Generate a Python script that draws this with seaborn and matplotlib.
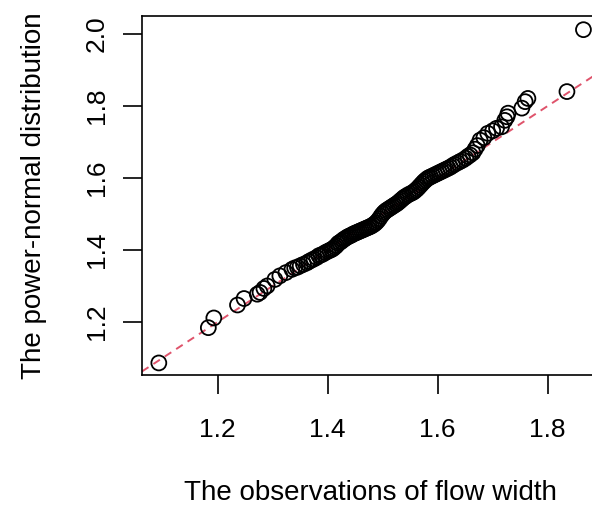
import matplotlib
matplotlib.use("Agg")
import matplotlib.pyplot as plt
import seaborn as sns
import pandas as pd

# Q-Q pairs (sorted observations vs fitted quantiles)
obs = [1.093, 1.183, 1.193, 1.236, 1.248, 1.272, 1.277, 1.284, 1.290, 1.304,
       1.313, 1.324, 1.335, 1.340, 1.345, 1.350, 1.356, 1.362, 1.366, 1.371,
       1.375, 1.380, 1.384, 1.388, 1.392, 1.396, 1.400, 1.404, 1.407, 1.410,
       1.413, 1.416, 1.419, 1.422, 1.425, 1.428, 1.431, 1.434, 1.437, 1.440,
       1.443, 1.446, 1.449, 1.452, 1.455, 1.458, 1.461, 1.464, 1.467, 1.470,
       1.473, 1.476, 1.479, 1.482, 1.485, 1.488, 1.491, 1.494, 1.497, 1.500,
       1.503, 1.506, 1.509, 1.512, 1.515, 1.518, 1.521, 1.524, 1.527, 1.530,
       1.533, 1.536, 1.539, 1.542, 1.546, 1.550, 1.554, 1.557, 1.560, 1.563,
       1.566, 1.569, 1.572, 1.575, 1.578, 1.581, 1.584, 1.587, 1.591, 1.595,
       1.599, 1.603, 1.607, 1.611, 1.615, 1.619, 1.623, 1.627, 1.631, 1.636,
       1.641, 1.646, 1.651, 1.655, 1.659, 1.664, 1.668, 1.672, 1.677, 1.684,
       1.691, 1.700, 1.707, 1.716, 1.722, 1.726, 1.728, 1.753, 1.759, 1.764,
       1.835, 1.865]
fitted = [1.086, 1.184, 1.211, 1.247, 1.265, 1.277, 1.282, 1.293, 1.300, 1.318,
          1.328, 1.337, 1.346, 1.350, 1.352, 1.356, 1.360, 1.364, 1.368, 1.372,
          1.375, 1.379, 1.384, 1.386, 1.389, 1.393, 1.396, 1.399, 1.401, 1.404,
          1.408, 1.412, 1.418, 1.421, 1.424, 1.428, 1.431, 1.434, 1.437, 1.439,
          1.441, 1.444, 1.446, 1.448, 1.450, 1.452, 1.454, 1.456, 1.458, 1.460,
          1.462, 1.464, 1.466, 1.469, 1.472, 1.476, 1.481, 1.487, 1.494, 1.500,
          1.505, 1.509, 1.512, 1.515, 1.518, 1.521, 1.524, 1.527, 1.530, 1.534,
          1.538, 1.542, 1.546, 1.549, 1.553, 1.556, 1.559, 1.562, 1.566, 1.570,
          1.575, 1.580, 1.585, 1.590, 1.594, 1.598, 1.601, 1.603, 1.606, 1.609,
          1.612, 1.615, 1.618, 1.621, 1.624, 1.627, 1.630, 1.634, 1.638, 1.642,
          1.646, 1.650, 1.655, 1.660, 1.664, 1.670, 1.680, 1.690, 1.705, 1.712,
          1.724, 1.731, 1.738, 1.742, 1.760, 1.770, 1.780, 1.794, 1.812, 1.821,
          1.840, 2.012]

x_ticks = [1.2, 1.4, 1.6, 1.8]
y_ticks = [1.2, 1.4, 1.6, 1.8, 2.0]

df = pd.DataFrame({"obs": obs, "fitted": fitted})

sns.set_style("ticks")
plt.rcParams["font.family"] = ["Liberation Sans", "DejaVu Sans"]

fig = plt.figure(figsize=(5.92, 5.07), dpi=100)
# axes run slightly past the right edge, as in the cropped reference
ax = fig.add_axes([142 / 592, 132 / 507, 457.4 / 592, 359 / 507])

sns.scatterplot(data=df, x="obs", y="fitted", ax=ax, marker="o", s=115,
                facecolor="none", edgecolor="black", linewidth=1.3, zorder=3)
ax.axline((0, 0), slope=1, color="#DF536B", linestyle=(0, (4, 3)),
          linewidth=1.4, zorder=2)

ax.set_xlim(1.0624, 1.894)
ax.set_ylim(1.0525, 2.050)
ax.set_xticks(x_ticks)
ax.set_yticks(y_ticks)
ax.set_xticklabels([f"{v:.1f}" for v in x_ticks])
ax.set_yticklabels([f"{v:.1f}" for v in y_ticks], rotation=90, va="center")

for s in ax.spines.values():
    s.set_linewidth(1.2)
    s.set_color("black")
ax.tick_params(axis="both", length=14, width=1.2, labelsize=19, colors="black")
ax.tick_params(axis="x", pad=17)
ax.tick_params(axis="y", pad=10)

ax.set_xlabel("The observations of flow width", fontsize=20, labelpad=27,
              color="black")
ax.set_ylabel("The power-normal distribution", fontsize=20, labelpad=27,
              color="black")

fig.savefig("out.png", dpi=100)
